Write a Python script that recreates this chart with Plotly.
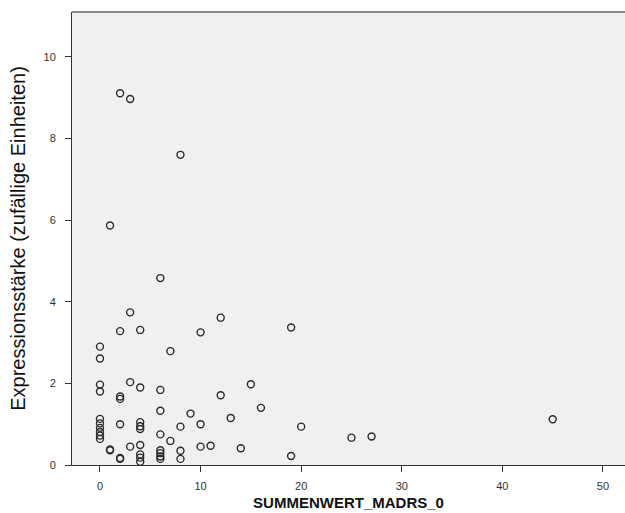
import plotly.graph_objects as go

# MADRS score (x) and expression (y), grouped by x value
madrs = (
    [0] * 10 + [1] * 3 + [2] * 7 + [3] * 4 + [4] * 9 + [6] * 8 + [7] * 2 + [8] * 4
    + [9] + [10] * 3 + [11] + [12] * 2 + [13] + [14] + [15] + [16] + [19] * 2
    + [20] + [25] + [27] + [45]
)
expression = (
    [2.90, 2.61, 1.97, 1.80, 1.13, 1.02, 0.91, 0.81, 0.72, 0.64]
    + [5.87, 0.38, 0.36]
    + [9.11, 3.28, 1.68, 1.62, 1.00, 0.17, 0.15]
    + [8.97, 3.74, 2.03, 0.45]
    + [3.31, 1.90, 1.05, 0.95, 0.88, 0.49, 0.26, 0.18, 0.08]
    + [4.58, 1.84, 1.33, 0.75, 0.36, 0.29, 0.21, 0.15]
    + [2.79, 0.59]
    + [7.60, 0.94, 0.35, 0.15]
    + [1.26]
    + [3.25, 1.00, 0.45]
    + [0.47]
    + [3.61, 1.71]
    + [1.15]
    + [0.41]
    + [1.98]
    + [1.40]
    + [3.37, 0.22]
    + [0.94]
    + [0.67]
    + [0.70]
    + [1.12]
)

x_ticks = [0, 10, 20, 30, 40, 50]
y_ticks = [0, 2, 4, 6, 8, 10]

FONT = "Liberation Sans, Arial, sans-serif"

fig = go.Figure()
fig.add_trace(go.Scatter(
    x=madrs, y=expression, mode="markers",
    marker=dict(symbol="circle-open", size=7, color="#2a2a2a", line=dict(width=1.4, color="#2a2a2a")),
    showlegend=False, hoverinfo="x+y",
))

fig.update_layout(
    width=625, height=513,
    margin=dict(l=72, r=0, t=12, b=48),
    paper_bgcolor="white",
    plot_bgcolor="#F0F0F0",
    font=dict(family=FONT, color="#222222"),
    xaxis=dict(
        range=[-2.78, 52.19], tickvals=x_ticks, ticktext=[str(v) for v in x_ticks],
        showgrid=False, zeroline=False, showline=True, linecolor="#333333", linewidth=1,
        ticks="outside", ticklen=6, tickcolor="#333333", tickfont=dict(size=11, color="#333333"),
        ticklabelstandoff=5,
        title=dict(text="SUMMENWERT_MADRS_0", font=dict(size=15, color="#111111",
                   family=FONT, weight="bold"), standoff=6),
    ),
    yaxis=dict(
        range=[0, 11.1], tickvals=y_ticks, ticktext=[str(v) for v in y_ticks],
        showgrid=False, zeroline=False, showline=True, linecolor="#333333", linewidth=1,
        ticks="outside", ticklen=6, tickcolor="#333333", tickfont=dict(size=11, color="#333333"),
        ticklabelstandoff=7,
        title=dict(text="Expressionsstärke (zufällige Einheiten)", font=dict(size=20, color="#111111"),
                   standoff=12),
    ),
    shapes=[dict(type="line", xref="paper", yref="paper", x0=0, x1=1, y0=1, y1=1,
                 line=dict(color="#888888", width=2))],
)

fig.write_html("out.html")
